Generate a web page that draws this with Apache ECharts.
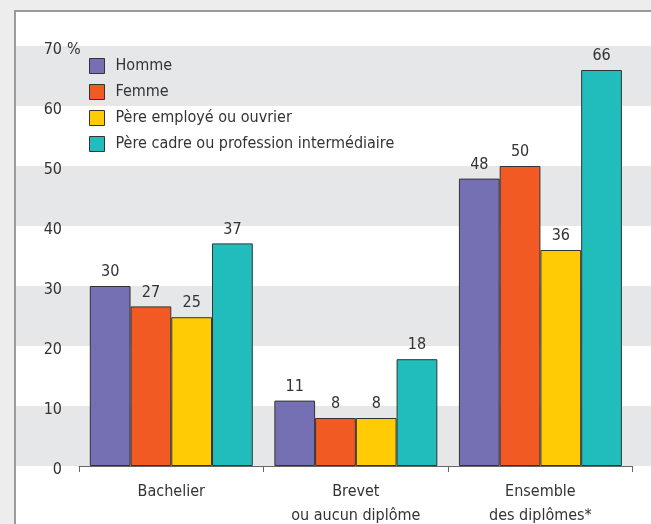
<!DOCTYPE html>
<html>
<head>
<meta charset="utf-8">
<script src="https://cdn.jsdelivr.net/npm/echarts@6/dist/echarts.min.js"></script>
<style>
  html, body { margin: 0; padding: 0; background: #ededed; }
  #frame { position: absolute; left: 14px; top: 10px; width: 640px; height: 520px;
           background: #ffffff; border-top: 2px solid #9a9a9a; border-left: 2px solid #9a9a9a; box-sizing: border-box; }
  #chart { position: absolute; left: 0; top: 0; width: 651px; height: 524px; }
</style>
</head>
<body>
<div id="frame"></div>
<div id="chart"></div>
<script>
const categories = ['Bachelier', 'Brevet\nou aucun diplôme', 'Ensemble\ndes diplômes*'];
const seriesNames = ['Homme', 'Femme', 'Père employé ou ouvrier', 'Père cadre ou profession intermédiaire'];
const homme = [30, 10.9, 47.9];
const femme = [26.6, 8, 50];
const pereEmploye = [24.8, 8, 36];
const pereCadre = [37.1, 17.8, 66];
const yTicks = [0, 10, 20, 30, 40, 50, 60, 70];
const colors = ['#7570b3', '#f15a22', '#ffcb05', '#21bdbd'];

const FONT = '"DejaVu Sans Condensed", "Liberation Sans Narrow", sans-serif';
const TXT = '#333333';
const FS = 16;

const chart = echarts.init(document.getElementById('chart'), null, { renderer: 'canvas' });
const allData = [homme, femme, pereEmploye, pereCadre];

const option = {
  backgroundColor: 'transparent',
  animation: false,
  textStyle: { fontFamily: FONT, color: TXT },
  legend: {
    orient: 'vertical',
    left: 89, top: 58, padding: 0,
    itemWidth: 15, itemHeight: 15, itemGap: 10,
    icon: 'rect',
    itemStyle: { borderColor: '#333', borderWidth: 1 },
    textStyle: { fontFamily: FONT, fontSize: FS, color: TXT, padding: [0, 0, 0, 6] },
    data: seriesNames
  },
  grid: [
    { left: 79, right: 18.3, top: 46, bottom: 58, containLabel: false, outerBoundsMode: 'none' },
    { left: 16, right: 0, top: 46, bottom: 58, containLabel: false, outerBoundsMode: 'none', z: 0 }
  ],
  xAxis: [
    {
      type: 'category', gridIndex: 0, data: categories,
      axisLine: { show: true, lineStyle: { color: '#666', width: 1 } },
      axisTick: { show: true, length: 6, lineStyle: { color: '#666' } },
      axisLabel: { interval: 0, fontFamily: FONT, fontSize: FS, color: TXT, lineHeight: 24, margin: 14 },
      z: 5
    },
    { type: 'value', gridIndex: 1, show: false, min: 0, max: 1 }
  ],
  yAxis: [
    {
      type: 'value', gridIndex: 0, min: 0, max: 70, interval: 10,
      axisLine: { show: false }, axisTick: { show: false },
      splitLine: { show: false },
      axisLabel: {
        fontFamily: FONT, fontSize: FS, color: TXT, margin: 17,
        formatter: v => '{v|' + v + '}',
        rich: { v: { fontFamily: FONT, fontSize: FS, color: TXT, padding: [7, 0, 0, 0] } }
      }
    },
    {
      type: 'value', gridIndex: 1, min: 0, max: 70, interval: 10,
      axisLine: { show: false }, axisTick: { show: false }, axisLabel: { show: false },
      splitLine: { show: false },
      splitArea: { show: true, areaStyle: { color: ['#e6e7e9', '#ffffff'] } }
    }
  ],
  graphic: [
    { type: 'text', x: 67, y: 50, z: 100, zlevel: 0, style: { text: '%', fontFamily: FONT, fontSize: FS, fill: TXT, verticalAlign: 'middle' } }
  ],
  series: seriesNames.map((name, i) => ({
    name, type: 'bar', xAxisIndex: 0, yAxisIndex: 0,
    data: allData[i],
    barGap: '0%', barCategoryGap: '11.7%',
    itemStyle: { color: colors[i], borderColor: '#333', borderWidth: 1 },
    label: {
      show: true, position: 'top', distance: 6,
      fontFamily: FONT, fontSize: FS, color: TXT,
      formatter: p => Math.round(p.value)
    },
    z: 3
  })).concat([{ type: 'line', xAxisIndex: 1, yAxisIndex: 1, data: [], silent: true }])
};
chart.setOption(option);
</script>
</body>
</html>
